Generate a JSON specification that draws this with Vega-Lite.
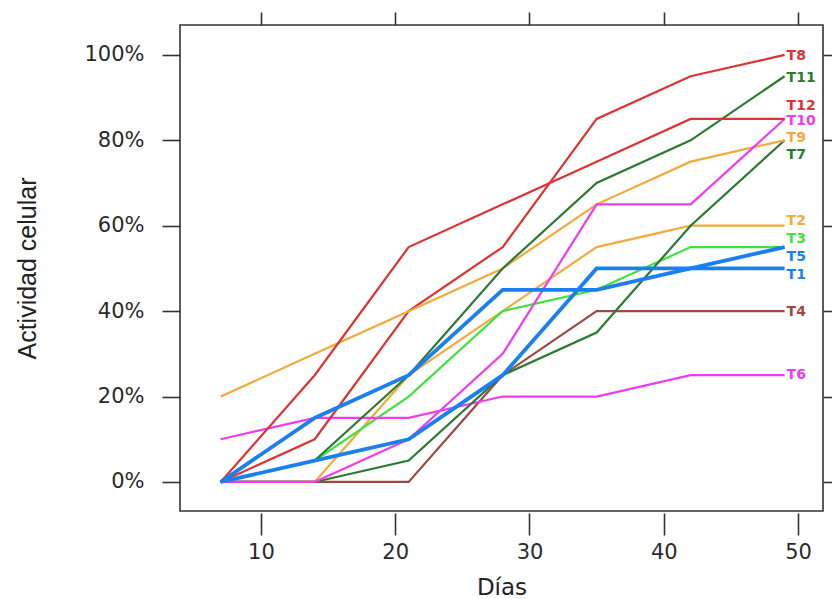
{
  "$schema": "https://vega.github.io/schema/vega-lite/v6.json",
  "width": 643,
  "height": 486,
  "autosize": {"type": "none"},
  "padding": {"left": 180, "top": 25, "right": 9, "bottom": 88},
  "background": "white",
  "config": {
    "view": {"stroke": "#333333", "strokeWidth": 1.6},
    "font": "DejaVu Sans",
    "axis": {"grid": false, "domain": false, "tickColor": "#333333", "tickWidth": 1.6, "labelColor": "#2a2a2a", "titleColor": "#222222", "titleFontWeight": "normal"}
  },
  "datasets": {
    "act": [
      {"series": "T1", "day": 7, "value": 0}, {"series": "T1", "day": 14, "value": 5}, {"series": "T1", "day": 21, "value": 10}, {"series": "T1", "day": 28, "value": 25}, {"series": "T1", "day": 35, "value": 50}, {"series": "T1", "day": 42, "value": 50}, {"series": "T1", "day": 49, "value": 50},
      {"series": "T2", "day": 7, "value": 0}, {"series": "T2", "day": 14, "value": 0}, {"series": "T2", "day": 21, "value": 25}, {"series": "T2", "day": 28, "value": 40}, {"series": "T2", "day": 35, "value": 55}, {"series": "T2", "day": 42, "value": 60}, {"series": "T2", "day": 49, "value": 60},
      {"series": "T3", "day": 7, "value": 0}, {"series": "T3", "day": 14, "value": 5}, {"series": "T3", "day": 21, "value": 20}, {"series": "T3", "day": 28, "value": 40}, {"series": "T3", "day": 35, "value": 45}, {"series": "T3", "day": 42, "value": 55}, {"series": "T3", "day": 49, "value": 55},
      {"series": "T4", "day": 7, "value": 0}, {"series": "T4", "day": 14, "value": 0}, {"series": "T4", "day": 21, "value": 0}, {"series": "T4", "day": 28, "value": 25}, {"series": "T4", "day": 35, "value": 40}, {"series": "T4", "day": 42, "value": 40}, {"series": "T4", "day": 49, "value": 40},
      {"series": "T5", "day": 7, "value": 0}, {"series": "T5", "day": 14, "value": 15}, {"series": "T5", "day": 21, "value": 25}, {"series": "T5", "day": 28, "value": 45}, {"series": "T5", "day": 35, "value": 45}, {"series": "T5", "day": 42, "value": 50}, {"series": "T5", "day": 49, "value": 55},
      {"series": "T6", "day": 7, "value": 10}, {"series": "T6", "day": 14, "value": 15}, {"series": "T6", "day": 21, "value": 15}, {"series": "T6", "day": 28, "value": 20}, {"series": "T6", "day": 35, "value": 20}, {"series": "T6", "day": 42, "value": 25}, {"series": "T6", "day": 49, "value": 25},
      {"series": "T7", "day": 7, "value": 0}, {"series": "T7", "day": 14, "value": 0}, {"series": "T7", "day": 21, "value": 5}, {"series": "T7", "day": 28, "value": 25}, {"series": "T7", "day": 35, "value": 35}, {"series": "T7", "day": 42, "value": 60}, {"series": "T7", "day": 49, "value": 80},
      {"series": "T8", "day": 7, "value": 0}, {"series": "T8", "day": 14, "value": 10}, {"series": "T8", "day": 21, "value": 40}, {"series": "T8", "day": 28, "value": 55}, {"series": "T8", "day": 35, "value": 85}, {"series": "T8", "day": 42, "value": 95}, {"series": "T8", "day": 49, "value": 100},
      {"series": "T9", "day": 7, "value": 20}, {"series": "T9", "day": 14, "value": 30}, {"series": "T9", "day": 21, "value": 40}, {"series": "T9", "day": 28, "value": 50}, {"series": "T9", "day": 35, "value": 65}, {"series": "T9", "day": 42, "value": 75}, {"series": "T9", "day": 49, "value": 80},
      {"series": "T10", "day": 7, "value": 0}, {"series": "T10", "day": 14, "value": 0}, {"series": "T10", "day": 21, "value": 10}, {"series": "T10", "day": 28, "value": 30}, {"series": "T10", "day": 35, "value": 65}, {"series": "T10", "day": 42, "value": 65}, {"series": "T10", "day": 49, "value": 85},
      {"series": "T11", "day": 7, "value": 0}, {"series": "T11", "day": 14, "value": 5}, {"series": "T11", "day": 21, "value": 25}, {"series": "T11", "day": 28, "value": 50}, {"series": "T11", "day": 35, "value": 70}, {"series": "T11", "day": 42, "value": 80}, {"series": "T11", "day": 49, "value": 95},
      {"series": "T12", "day": 7, "value": 0}, {"series": "T12", "day": 14, "value": 25}, {"series": "T12", "day": 21, "value": 55}, {"series": "T12", "day": 28, "value": 65}, {"series": "T12", "day": 35, "value": 75}, {"series": "T12", "day": 42, "value": 85}, {"series": "T12", "day": 49, "value": 85}
    ]
  },
  "data": {"name": "act"},
  "resolve": {"scale": {"x": "independent", "y": "independent"}, "axis": {"x": "independent", "y": "independent"}},
  "layer": [
    {
      "mark": {"type": "line", "strokeWidth": 2.2, "clip": true},
      "transform": [{"filter": "datum.series !== 'T1' && datum.series !== 'T5'"}],
      "encoding": {
        "x": {"field": "day", "type": "quantitative", "scale": {"domain": [3.97, 51.86], "nice": false, "zero": false},
          "axis": {"orient": "bottom", "values": [10, 20, 30, 40, 50], "tickSize": 22, "offset": 2, "labelFontSize": 21, "labelPadding": 6, "title": "Días", "titleFontSize": 23, "titlePadding": 14}},
        "y": {"field": "value", "type": "quantitative", "scale": {"domain": [-6.8, 107], "nice": false, "zero": false},
          "axis": {"orient": "left", "values": [0, 20, 40, 60, 80, 100], "labelExpr": "datum.value + '%'", "tickSize": 18, "labelPadding": 18, "labelFontSize": 21, "title": "Actividad celular", "titleFont": "Liberation Sans Narrow, Liberation Sans", "titleFontSize": 25, "titleX": -153, "titleY": 243, "titleAngle": -90, "titleAlign": "center", "titleBaseline": "middle"}},
        "color": {"field": "series", "type": "nominal", "legend": null,
          "scale": {"domain": ["T1", "T2", "T3", "T4", "T5", "T6", "T7", "T8", "T9", "T10", "T11", "T12"],
            "range": ["#1a7ff0", "#f2aa3a", "#3ee23e", "#9c4a48", "#1a7ff0", "#ee3cee", "#2b7a32", "#dd3333", "#f2aa3a", "#ee3cee", "#2b7a32", "#dd3333"]}},
        "detail": {"field": "series"}
      }
    },
    {
      "mark": {"type": "line", "strokeWidth": 3.8, "clip": true},
      "transform": [{"filter": "datum.series === 'T1' || datum.series === 'T5'"}],
      "encoding": {
        "x": {"field": "day", "type": "quantitative", "scale": {"domain": [3.97, 51.86], "nice": false, "zero": false},
          "axis": {"orient": "top", "values": [10, 20, 30, 40, 50], "tickSize": 13, "labels": false, "title": null}},
        "y": {"field": "value", "type": "quantitative", "scale": {"domain": [-6.8, 107], "nice": false, "zero": false},
          "axis": {"orient": "right", "values": [0, 20, 40, 60, 80, 100], "tickSize": 13, "labels": false, "title": null}},
        "color": {"field": "series", "type": "nominal", "legend": null,
          "scale": {"domain": ["T1", "T2", "T3", "T4", "T5", "T6", "T7", "T8", "T9", "T10", "T11", "T12"],
            "range": ["#1a7ff0", "#f2aa3a", "#3ee23e", "#9c4a48", "#1a7ff0", "#ee3cee", "#2b7a32", "#dd3333", "#f2aa3a", "#ee3cee", "#2b7a32", "#dd3333"]}},
        "detail": {"field": "series"}
      }
    },
    {
      "mark": {"type": "text", "align": "left", "baseline": "middle", "dx": 2, "fontWeight": "bold", "fontSize": 14,
        "dy": {"expr": "({'T8':1,'T11':2,'T12':-13,'T10':2,'T9':-2,'T7':15,'T2':-5,'T3':-8,'T5':10,'T1':7,'T4':1,'T6':0})[datum.series]"}},
      "transform": [{"filter": "datum.day === 49"}],
      "encoding": {
        "x": {"field": "day", "type": "quantitative", "scale": {"domain": [3.97, 51.86], "nice": false, "zero": false}, "axis": null},
        "y": {"field": "value", "type": "quantitative", "scale": {"domain": [-6.8, 107], "nice": false, "zero": false}, "axis": null},
        "text": {"field": "series"},
        "color": {"field": "series", "type": "nominal", "legend": null,
          "scale": {"domain": ["T1", "T2", "T3", "T4", "T5", "T6", "T7", "T8", "T9", "T10", "T11", "T12"],
            "range": ["#5a9ae6", "#f2aa3a", "#3ee23e", "#9c4a48", "#5a9ae6", "#ee3cee", "#2b7a32", "#dd3333", "#f2aa3a", "#ee3cee", "#2b7a32", "#dd3333"]}}
      }
    }
  ]
}
